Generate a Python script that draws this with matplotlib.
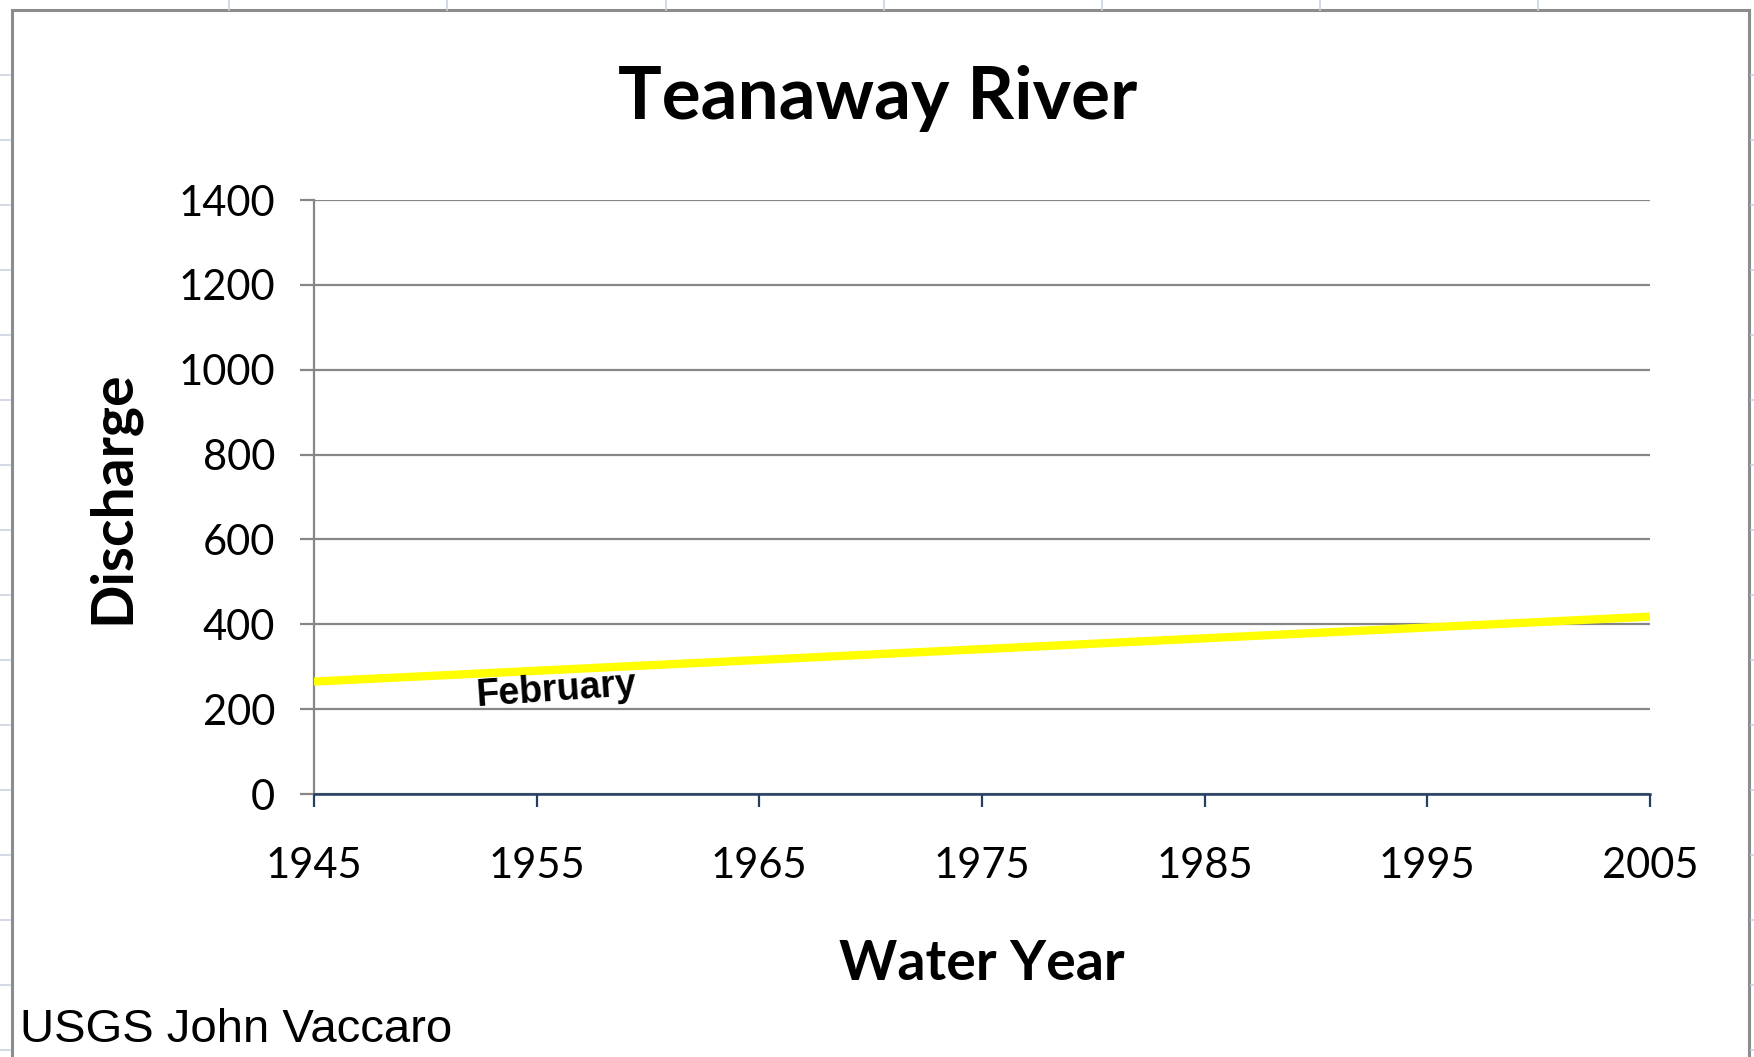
import matplotlib
matplotlib.use("Agg")
import matplotlib.pyplot as plt
from matplotlib.lines import Line2D
from matplotlib.patches import Rectangle

# ---- data ----
years = [1945, 2005]
discharge = [265, 418]
series_label = "February"
x_ticks = [1945, 1955, 1965, 1975, 1985, 1995, 2005]
y_ticks = [0, 200, 400, 600, 800, 1000, 1200, 1400]
title = "Teanaway River"
x_label = "Water Year"
y_label = "Discharge"
credit = "USGS John Vaccaro"

W, H = 1754, 1057
fig = plt.figure(figsize=(W / 100, H / 100), dpi=100)
fig.patch.set_facecolor("white")

# spreadsheet cell lines peeking around the chart
sheet_col = "#c9d2e3"
for x in [229, 447, 666, 884, 1102, 1320, 1538]:
    fig.add_artist(Line2D([x / W, x / W], [1, 1 - 10 / H], color=sheet_col, lw=1.2))
for y in range(75, 1057, 65):
    fig.add_artist(Line2D([0, 10 / W], [1 - y / H, 1 - y / H], color=sheet_col, lw=1.2))
    fig.add_artist(Line2D([1751 / W, 1], [1 - y / H, 1 - y / H], color=sheet_col, lw=1.2))

# chart border
fig.add_artist(Rectangle((12 / W, -0.05), (1749 - 12) / W, 1 - 10 / H + 0.05,
                         fill=False, edgecolor="#8c8c8c", lw=2.2, transform=fig.transFigure))

left, right = 314 / W, 1650 / W
bottom, top = 1 - 794 / H, 1 - 200 / H
ax = fig.add_axes([left, bottom, right - left, top - bottom])

ax.plot(years, discharge, color="#FFFF00", lw=6, solid_capstyle="butt", zorder=3)

ax.set_xlim(1945, 2005)
ax.set_ylim(0, 1400)
ax.set_xticks(x_ticks)
ax.set_yticks(y_ticks)

font = "Lato"
ax.set_xticklabels([str(v) for v in x_ticks], fontsize=30, family=font)
ax.set_yticklabels([str(v) for v in y_ticks], fontsize=30, family=font)

grid_col = "#868686"
navy = "#243F60"
ax.grid(axis="y", color=grid_col, lw=1.6)
ax.set_axisbelow(True)
for s in ["top", "right"]:
    ax.spines[s].set_visible(False)
ax.spines["left"].set_color(grid_col)
ax.spines["left"].set_linewidth(1.6)
ax.spines["bottom"].set_color(navy)
ax.spines["bottom"].set_linewidth(1.8)
ax.spines["bottom"].set_zorder(4)

ax.tick_params(axis="x", direction="out", length=9.5, width=1.6, color=navy, pad=29)
ax.tick_params(axis="y", direction="out", length=10, width=1.6, color=grid_col, pad=18)

ax.set_xlabel(x_label, fontsize=40, fontweight="bold", family=font)
ax.set_ylabel(y_label, fontsize=41, fontweight="bold", family=font)
ax.xaxis.set_label_coords(0.5, -0.286)
ax.yaxis.set_label_coords(-0.151, 0.5)
ax.xaxis.label.set_va("center")
ax.yaxis.label.set_va("center")

fig.text(878 / W, 1 - 98 / H, title, fontsize=52.5, fontweight="bold", family=font,
         ha="center", va="center")

ax.text(1955.9, 243, series_label, fontsize=27, fontweight="bold",
        family="Liberation Sans", rotation=4, ha="center", va="center", zorder=5)

fig.text(20 / W, 1 - 1030 / H, credit, fontsize=34, family="Liberation Sans",
         ha="left", va="center")

fig.savefig("out.png", dpi=100, facecolor="white")
